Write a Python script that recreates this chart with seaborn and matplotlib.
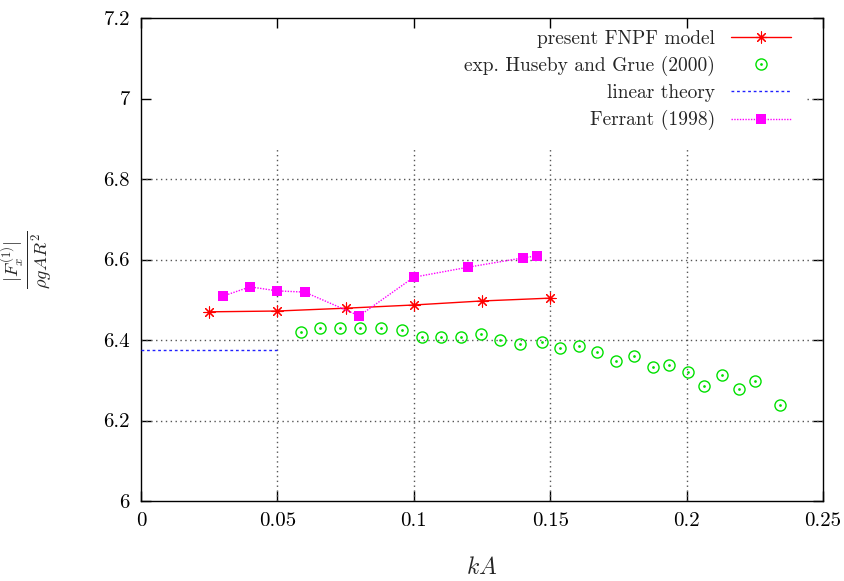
import numpy as np
import pandas as pd
import matplotlib
matplotlib.use("Agg")
import matplotlib.pyplot as plt
import seaborn as sns
from matplotlib.path import Path

# ---- data ----
fnpf_ka = [0.025, 0.05, 0.075, 0.10, 0.125, 0.15]
fnpf_f = [6.470, 6.472, 6.479, 6.487, 6.497, 6.504]

exp_ka = [0.0585, 0.0656, 0.0729, 0.0802, 0.0878, 0.0955, 0.1030, 0.1101, 0.1173,
          0.1245, 0.1316, 0.1389, 0.1469, 0.1536, 0.1604, 0.1671, 0.1742, 0.1806,
          0.1877, 0.1935, 0.2005, 0.2062, 0.2131, 0.2191, 0.2252, 0.2342]
exp_f = [6.419, 6.431, 6.431, 6.431, 6.431, 6.425, 6.408, 6.408, 6.408,
         6.414, 6.401, 6.390, 6.396, 6.379, 6.384, 6.371, 6.349, 6.360,
         6.332, 6.338, 6.320, 6.285, 6.314, 6.279, 6.297, 6.238]

lin_ka = [0.0, 0.05]
lin_f = [6.375, 6.375]

ferr_ka = [0.03, 0.04, 0.05, 0.06, 0.08, 0.10, 0.12, 0.14, 0.145]
ferr_f = [6.509, 6.532, 6.522, 6.519, 6.460, 6.556, 6.581, 6.604, 6.609]

labels = ["present FNPF model", "exp. Huseby and Grue (2000)",
          "linear theory", "Ferrant (1998)"]
xticks = [0, 0.05, 0.10, 0.15, 0.20, 0.25]
yticks = [6.0, 6.2, 6.4, 6.6, 6.8, 7.0, 7.2]
xtick_labels = ["0", "0.05", "0.1", "0.15", "0.2", "0.25"]
ytick_labels = ["6", "6.2", "6.4", "6.6", "6.8", "7", "7.2"]

# ---- style ----
sns.set_style("ticks")
plt.rcParams["font.family"] = ["cmr10", "DejaVu Serif"]
plt.rcParams["mathtext.fontset"] = "cm"
plt.rcParams["axes.formatter.use_mathtext"] = True

fig = plt.figure(figsize=(8.44, 5.81), dpi=100)
ax = fig.add_axes([141 / 844, 1 - 501 / 581, 682 / 844, 483 / 581])

# gridlines (hidden behind the key in the upper area, like the original)
grid_kw = dict(color="#555555", linestyle=(0, (1, 2.5)), linewidth=1.0, zorder=1)
ax.vlines(xticks[1:-1], yticks[0], 6.88, **grid_kw)
ax.hlines(yticks[1:5], xticks[0], xticks[-1], **grid_kw)
ax.hlines([yticks[5]], 0.2440, xticks[-1], **grid_kw)

# custom markers
ast = Path.unit_regular_asterisk(8)
circ = Path.unit_circle()
dot = Path(circ.vertices * 0.12, circ.codes)
circ_dot = Path.make_compound_path(circ, dot)

d1 = pd.DataFrame({"kA": fnpf_ka, "F": fnpf_f})
d2 = pd.DataFrame({"kA": exp_ka, "F": exp_f})
d3 = pd.DataFrame({"kA": lin_ka, "F": lin_f})
d4 = pd.DataFrame({"kA": ferr_ka, "F": ferr_f})

sns.lineplot(data=d1, x="kA", y="F", ax=ax, color="#ff0000", linewidth=1.0,
             marker=ast, markersize=8, markeredgewidth=0.8, markeredgecolor="#ff0000",
             label=labels[0], errorbar=None, zorder=3)
sns.lineplot(data=d2, x="kA", y="F", ax=ax, color="#00e000", linestyle="",
             marker=circ_dot, markersize=8, markerfacecolor="none",
             markeredgecolor="#00e000", markeredgewidth=1.0,
             label=labels[1], errorbar=None, zorder=3)
sns.lineplot(data=d3, x="kA", y="F", ax=ax, color="#2020ff", linewidth=1.0,
             linestyle=(0, (2, 2)), label=labels[2], errorbar=None, zorder=3)
sns.lineplot(data=d4, x="kA", y="F", ax=ax, color="#ff00ff", linewidth=1.0,
             linestyle=(0, (1, 1)), marker="s", markersize=7, markeredgewidth=0,
             label=labels[3], errorbar=None, zorder=3)

ax.set_xlim(xticks[0], xticks[-1])
ax.set_ylim(yticks[0], yticks[-1])
ax.set_xticks(xticks)
ax.set_xticklabels(xtick_labels)
ax.set_yticks(yticks)
ax.set_yticklabels(ytick_labels)
ax.tick_params(direction="in", length=7, width=1, top=True, right=True,
               labelsize=15, pad=8, colors="black")
for s in ax.spines.values():
    s.set_linewidth(1.0)
    s.set_color("black")

ax.set_xlabel(r"$kA$", fontsize=17)
ax.xaxis.set_label_coords(0.5, -0.115)
ax.set_ylabel(r"$\frac{|F_x^{(1)}|}{\rho g A R^2}$", fontsize=19, rotation=90)
ax.yaxis.set_label_coords(-0.128, 0.5)

leg = ax.legend(loc="upper right", bbox_to_anchor=(0.97, 1.0), markerfirst=False,
                frameon=False, fontsize=14, handlelength=3.1, handletextpad=0.8,
                labelspacing=0.42, borderaxespad=0.2)

fig.savefig("out.png", dpi=100)
